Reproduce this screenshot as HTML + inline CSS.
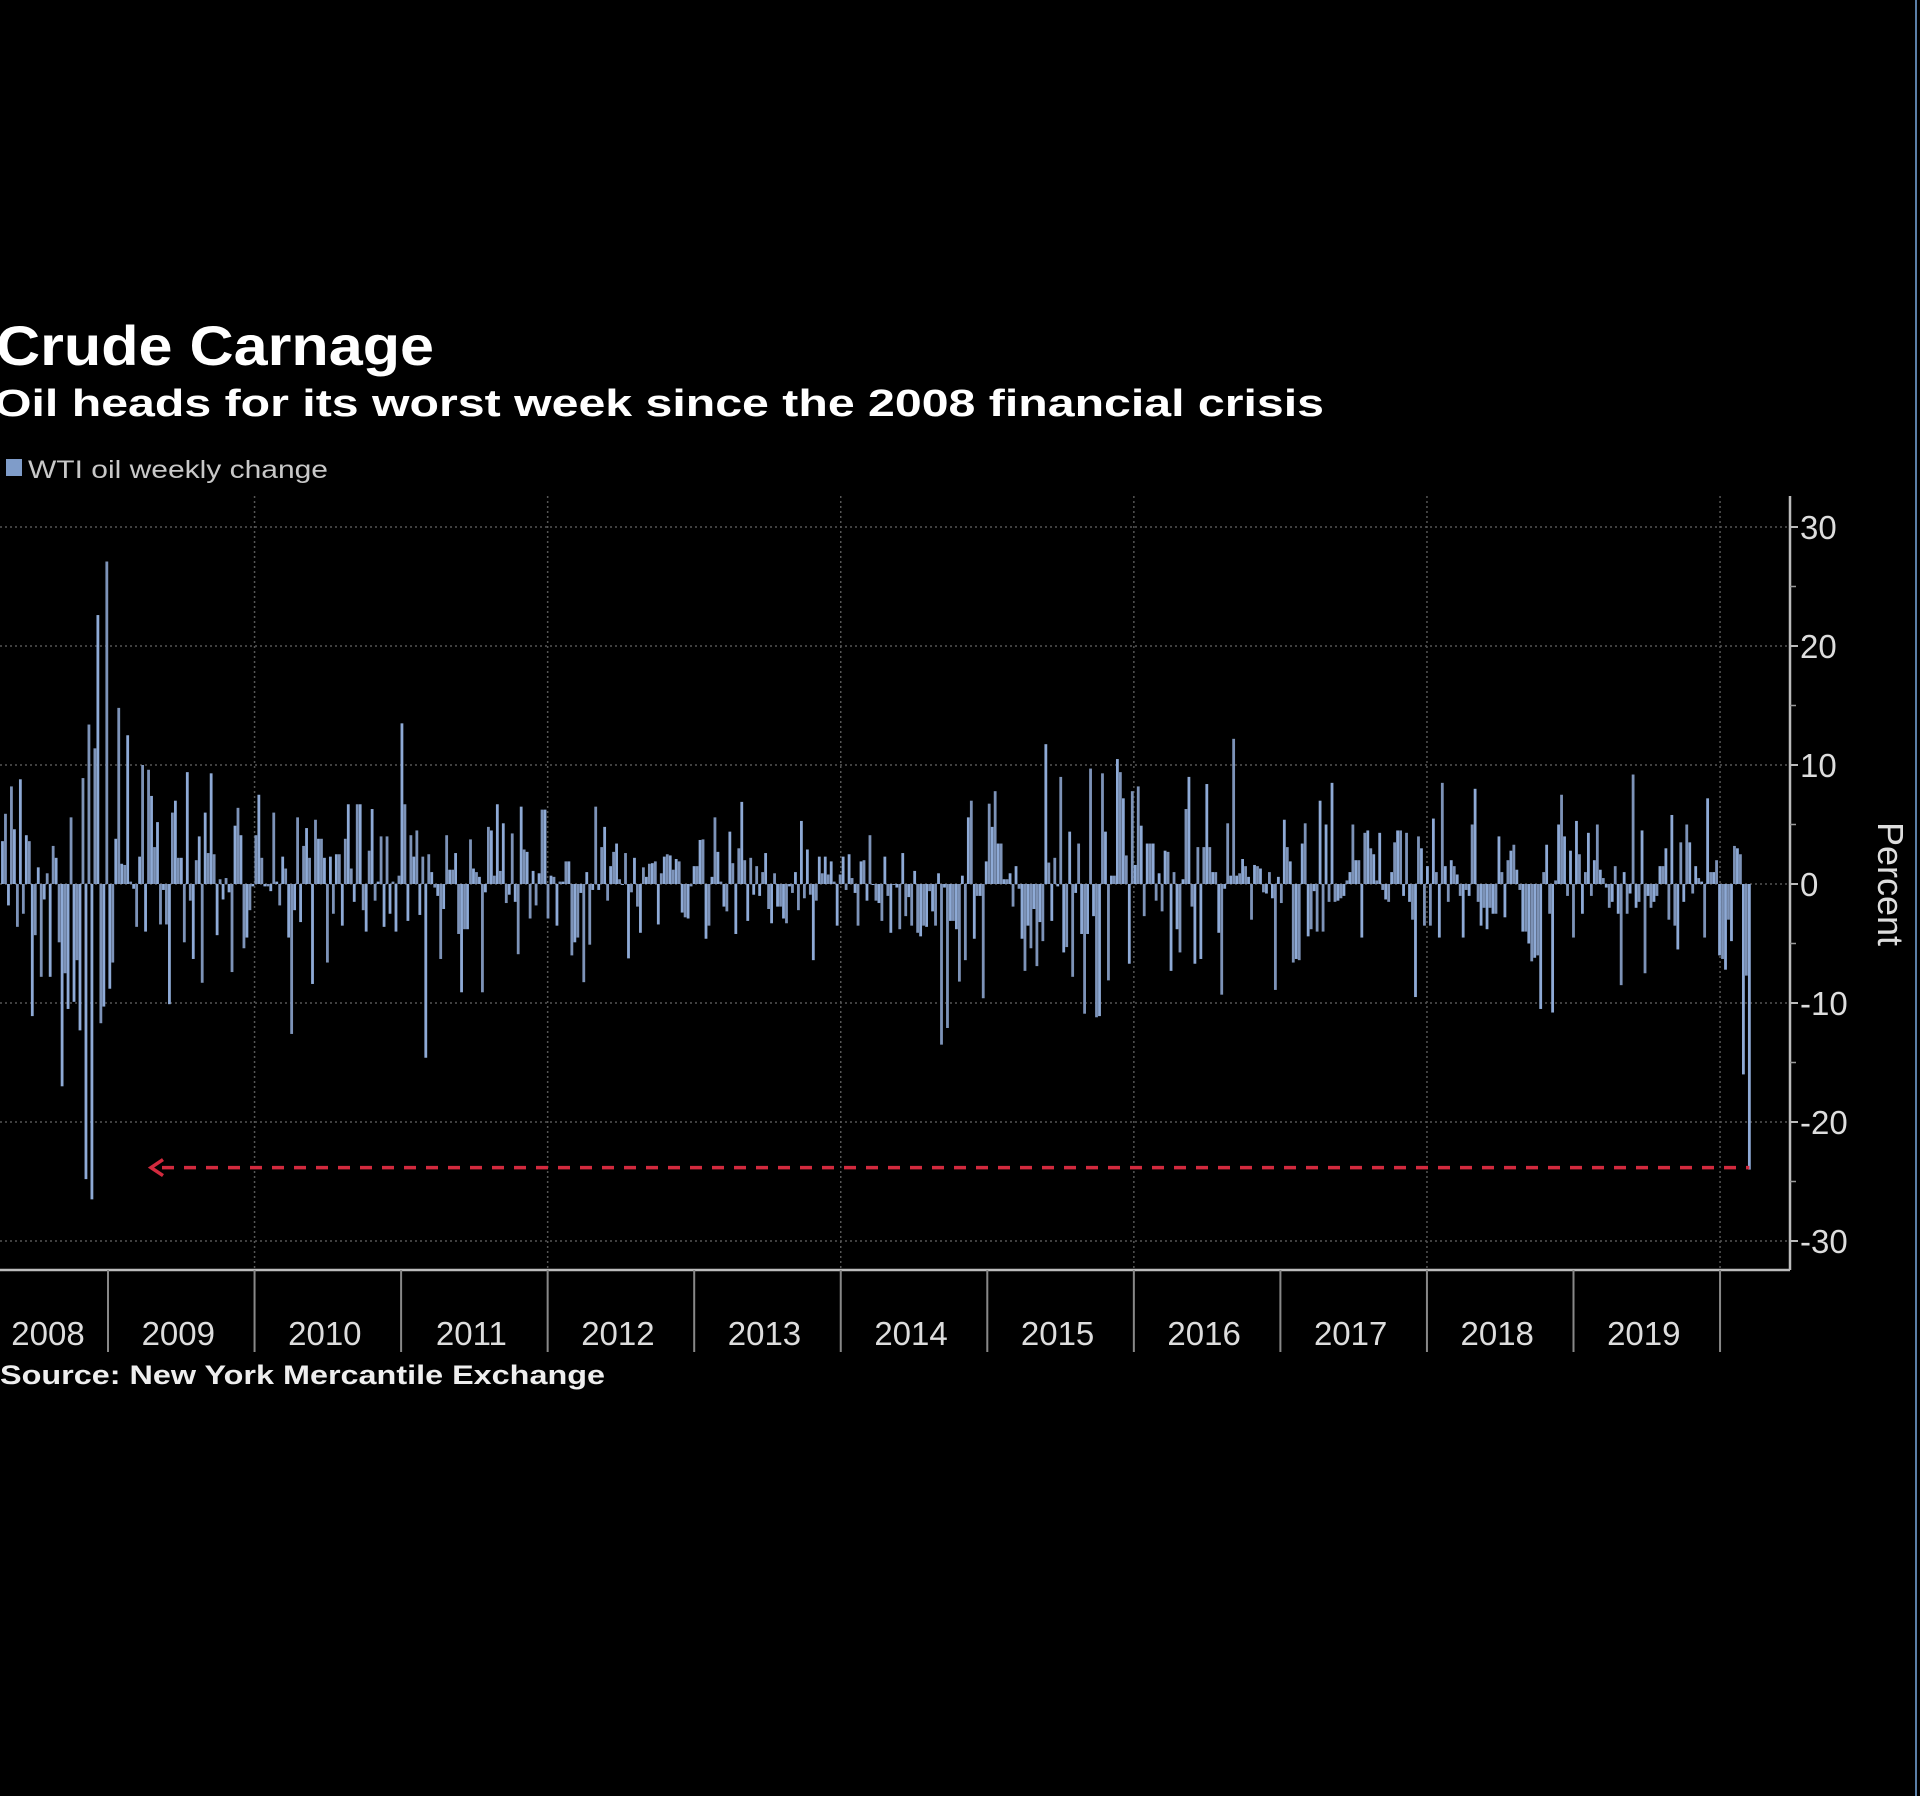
<!DOCTYPE html>
<html><head><meta charset="utf-8"><title>Crude Carnage</title>
<style>
html,body{margin:0;padding:0;background:#000;width:1920px;height:1796px;overflow:hidden}
svg{display:block}
text{font-family:"Liberation Sans","DejaVu Sans",sans-serif}
</style></head>
<body>
<svg id="chart" width="1920" height="1796" viewBox="0 0 1920 1796">
<rect x="0" y="0" width="1920" height="1796" fill="#000"/>
<line x1="1916" y1="0" x2="1916" y2="1796" stroke="#5a7fa8" stroke-width="2"/>
<text x="-4" y="365" fill="#fff" font-size="56" font-weight="bold" textLength="438" lengthAdjust="spacingAndGlyphs">Crude Carnage</text>
<text x="-6" y="416" fill="#fff" font-size="38" font-weight="bold" textLength="1330" lengthAdjust="spacingAndGlyphs">Oil heads for its worst week since the 2008 financial crisis</text>
<g>
<rect x="6" y="459" width="16" height="17" fill="#7f9cc9"/>
<text x="28" y="478" fill="#c8c8c8" font-size="25" textLength="300" lengthAdjust="spacingAndGlyphs">WTI oil weekly change</text>
</g>
<g id="grid"></g>
<g id="bars"></g>
<g id="axes"></g>
<g id="annot"></g>
<text x="0" y="0" transform="translate(1878,884) rotate(90)" text-anchor="middle" fill="#ddd" font-size="36">Percent</text>
<text x="0" y="1384" fill="#eee" font-size="27" font-weight="bold" textLength="605" lengthAdjust="spacingAndGlyphs">Source: New York Mercantile Exchange</text>
</svg>
<script>
const yTicks = [30, 20, 10, 0, -10, -20, -30];
const yMinorTicks = [25, 15, 5, -5, -15, -25];
const yearLabels = ["2008","2009","2010","2011","2012","2013","2014","2015","2016","2017","2018","2019"];
const yearBoundaries = [2009,2010,2011,2012,2013,2014,2015,2016,2017,2018,2019,2020];
const gridYears = [2010,2012,2014,2016,2018,2020];
const firstWeek = 2008.28;
const lastWeek = 2020.20;
const highlightValue = -24;
const weeklyChange = [
3.6,5.9,-1.8,8.2,4.6,-3.6,8.8,-2.5,4.1,3.6,-11.1,-4.3,1.4,-7.8,-1.3,0.9,-7.8,3.2,2.2,-4.9,-17,-7.5,-10.5,5.6,-9.9,-6.4,-12.3,8.9,-24.8,13.4,-26.5,11.4,22.6,-11.7,-10.3,27.1,-8.8,-6.6,3.8,14.8,1.7,1.6,12.5,0.2,-0.4,-3.6,2.3,10,-4,9.6,7.4,3.1,5.2,-3.4,-0.5,-3.4,-10.1,6,7,2.2,2.2,-4.9,9.4,-1.4,-6.3,2,4,-8.3,6,2.6,9.3,2.5,-4.3,0.4,-1.3,0.5,-0.7,-7.4,4.9,6.4,4.1,-5.4,-4.5,-2.2,-0.2,4.1,7.5,2.2,-0.2,-0.2,-0.6,6,0.2,-1.8,2.3,1.3,-4.5,-12.6,-2.2,5.6,-3.2,3.2,4.7,2.2,-8.4,5.4,3.8,3.8,2.2,-6.6,2.3,-2.5,2.5,2.5,-3.5,3.8,6.7,1.3,-1.5,6.7,6.7,-2.2,-4,2.8,6.3,-1.4,0.2,4,-3.6,4,-2.5,0.2,-4,0.7,13.5,6.7,-3.1,4.1,2.3,4.5,-2.6,2.3,
-14.6,2.5,1,-0.3,-1,-6.3,-2.1,4.1,1.2,1.2,2.6,-4.2,-9.1,-3.8,-3.8,3.75,1.3,1,0.6,-9.1,-0.7,4.8,4.5,0.7,6.7,1.1,5.1,-1.6,-0.9,4.25,-1.5,-5.9,6.5,2.9,2.7,-2.9,1.1,-1.8,0.9,6.25,6.25,-2.9,0.7,0.6,-3.5,0.2,0.2,1.9,1.9,-6,-4.9,-4.5,-0.75,-8.25,1,-5.1,-0.5,6.5,-0.5,3.1,4.8,-1.4,1.5,2.7,3.4,0.4,0,2.6,-6.25,-0.7,2.2,-1.9,-4.1,1.4,0.6,1.7,1.75,1.9,-3.4,0.9,2.3,2.5,2.4,1.2,2.1,1.9,-2.4,-2.8,-2.9,-0.2,1.5,1.5,3.7,3.75,-4.6,-3.5,0.6,5.6,2.7,0.2,-1.9,-2.3,4.4,1.75,-4.2,3,6.9,2,-3.1,2.2,-0.9,1.5,-1,1,2.6,-2.1,-3.3,0.9,-1.9,-1.9,-2.9,-3.3,-0.2,-0.75,1,-2.2,5.3,-1.2,2.9,-0.9,-6.4,-1.4,2.3,0.9,2.3,0.8,1.9,0.2,-3.5,0.8,2.3,-0.5,2.5,0.5,-0.75,-3.5,1.9,2,
-1.4,4.1,0,-1.4,-1.6,-3.1,2.3,-1,-4.1,0,-0.3,-3.8,2.6,-2.7,-1.1,-3.5,1.1,-4.1,-4.4,-3.5,-3.6,-0.6,-2.3,-3.5,0.9,-13.5,-0.3,-12.1,-3.1,-3.1,-3.8,-8.2,0.7,-6.4,5.6,7,-4.6,-1,-1,-9.6,1.9,6.75,4.8,7.8,3.4,3.4,0.4,0.4,0.9,-1.9,1.5,-0.4,-4.6,-7.3,-3.5,-5.4,-2.1,-6.9,-3.2,-4.8,11.75,1.8,-3.1,2.2,-0.2,9,-5.75,-5.3,4.4,-7.8,-0.75,3.4,-4.2,-10.9,-4.2,9.7,-2.7,-11.2,-11.1,9.3,4.4,-8.1,0.7,0.7,10.5,9.4,7.2,2.4,-6.7,7.8,1.6,8.2,4.9,-2.7,3.4,3.4,3.4,-1.4,0.9,-2.3,2.8,2.7,-7.3,1,-3.8,-5.75,0.4,6.3,9,-1.9,-6.7,3.1,-6.3,3.1,8.4,3.1,1,1,-4.1,-9.3,-0.4,5.1,0.7,12.2,0.7,0.9,2.1,1.5,0.6,-3,1.6,1.5,1.3,-0.7,-0.8,1,-1.2,-8.9,0.6,-1.6,5.4,3.1,1.9,-6.6,-6.3,-6.4,3.4,5.1,-4.4,-3.8,-0.6,
-4,7,-4,5,-1.5,8.5,-1.5,-1.4,-1.2,-1,0.3,1,5,2,2,-4.5,4.3,4.5,3,2.5,0.3,4.3,-0.5,-1.3,-1.5,1,3.5,4.5,4.5,-1,4.3,-1.5,-3,-9.5,4,3,-3.5,1.5,-3.5,5.5,1,-4.5,8.5,1.5,-1.5,2,1.5,0.8,-1,-4.5,-0.5,-1,5,8,-1.5,-3.5,-2,-3.8,-2,-2.5,-2.5,4,1,-2.8,2,2.8,3.3,1.2,-0.5,-4,-4,-5,-6.5,-6.2,-6,-10.5,1,3.3,-2.5,-10.8,0.3,5,7.5,4,-1,2.8,-4.5,5.3,2.5,-2.5,1,4.3,-1,2,5,1.2,0.5,-0.3,-2,-1.5,1.5,-2.5,-8.5,1,-2.5,-0.8,9.2,-2,-1.5,4.5,-7.5,-1,-2,-1.5,-1,1.5,1.5,3,-3,5.8,-3.5,-5.5,3.5,-1.5,5,3.5,-0.8,1.5,0.5,0.2,-4.5,7.2,1,1,2,-6,-6.3,-7.2,-3,-4.8,3.2,3,2.5,-16,-7.7,-24
];

const NS = "http://www.w3.org/2000/svg";
const plotLeft = 0, plotRight = 1790, plotTop = 496, plotBottom = 1270;
const yearX = y => 108 + (y - 2009) * 146.55;
const yScale = v => 884 - v * 11.9;
function mk(tag, attrs, parent) {
  const e = document.createElementNS(NS, tag);
  for (const k in attrs) e.setAttribute(k, attrs[k]);
  parent.appendChild(e);
  return e;
}
const grid = document.getElementById('grid');
const bars = document.getElementById('bars');
const axes = document.getElementById('axes');
const annot = document.getElementById('annot');

yTicks.forEach(v => {
  const l = mk('line', {x1: plotLeft, x2: plotRight, y1: yScale(v), y2: yScale(v), stroke: '#555', 'stroke-width': 1.5, 'stroke-dasharray': '2 3'}, grid);
  
  
});
gridYears.forEach(y => {
  const l = mk('line', {x1: yearX(y), x2: yearX(y), y1: plotTop, y2: plotBottom, stroke: '#555', 'stroke-width': 1.5, 'stroke-dasharray': '2 3'}, grid);
  
  
});

const n = weeklyChange.length;
const step = (lastWeek - firstWeek) / (n - 1);
weeklyChange.forEach((v, i) => {
  const x = yearX(firstWeek + i * step);
  const y0 = yScale(0), y1 = yScale(v);
  const r = mk('rect', {x: x - 1.4, y: Math.min(y0, y1), width: 2.8, height: Math.max(1, Math.abs(y1 - y0)), fill: i % 2 ? '#7d93b8' : '#8eaad6'}, bars);
  
  
});

let a = mk('line', {x1: plotLeft, x2: plotRight, y1: plotBottom, y2: plotBottom, stroke: '#bbb', 'stroke-width': 2.5}, axes);


a = mk('line', {x1: plotRight, x2: plotRight, y1: plotTop, y2: plotBottom, stroke: '#bbb', 'stroke-width': 2.5}, axes);


yTicks.forEach(v => {
  const t = mk('line', {x1: plotRight, x2: plotRight + 8, y1: yScale(v), y2: yScale(v), stroke: '#bbb', 'stroke-width': 2}, axes);
  
  
  const lb = mk('text', {x: plotRight + 10, y: yScale(v) + 12, fill: '#ddd', 'font-size': 33}, axes);
  lb.textContent = v < 0 ? '-' + Math.abs(v) : String(v);
  
  
});
yMinorTicks.forEach(v => {
  const t = mk('line', {x1: plotRight, x2: plotRight + 6, y1: yScale(v), y2: yScale(v), stroke: '#999', 'stroke-width': 1.5}, axes);
  
  
});
yearBoundaries.forEach(y => {
  const t = mk('line', {x1: yearX(y), x2: yearX(y), y1: plotBottom, y2: 1352, stroke: '#888', 'stroke-width': 2}, axes);
  
  
});
yearLabels.forEach((lab, i) => {
  const yr = +lab;
  const cx = i === 0 ? 48 : yearX(yr + 0.5) - 3;
  const t = mk('text', {x: cx, y: 1345, fill: '#ddd', 'font-size': 33, 'text-anchor': 'middle'}, axes);
  t.textContent = lab;
  
  
});

const lastX = yearX(lastWeek);
const hy = yScale(highlightValue) - 2;
let d = mk('line', {x1: 162, x2: lastX, y1: hy, y2: hy, stroke: '#d32a3e', 'stroke-width': 3.5, 'stroke-dasharray': '12 10'}, annot);


d = mk('polyline', {points: (163) + ',' + (hy - 8) + ' 151,' + hy + ' 163,' + (hy + 8), fill: 'none', stroke: '#d32a3e', 'stroke-width': 3.5}, annot);


</script>
</body></html>
